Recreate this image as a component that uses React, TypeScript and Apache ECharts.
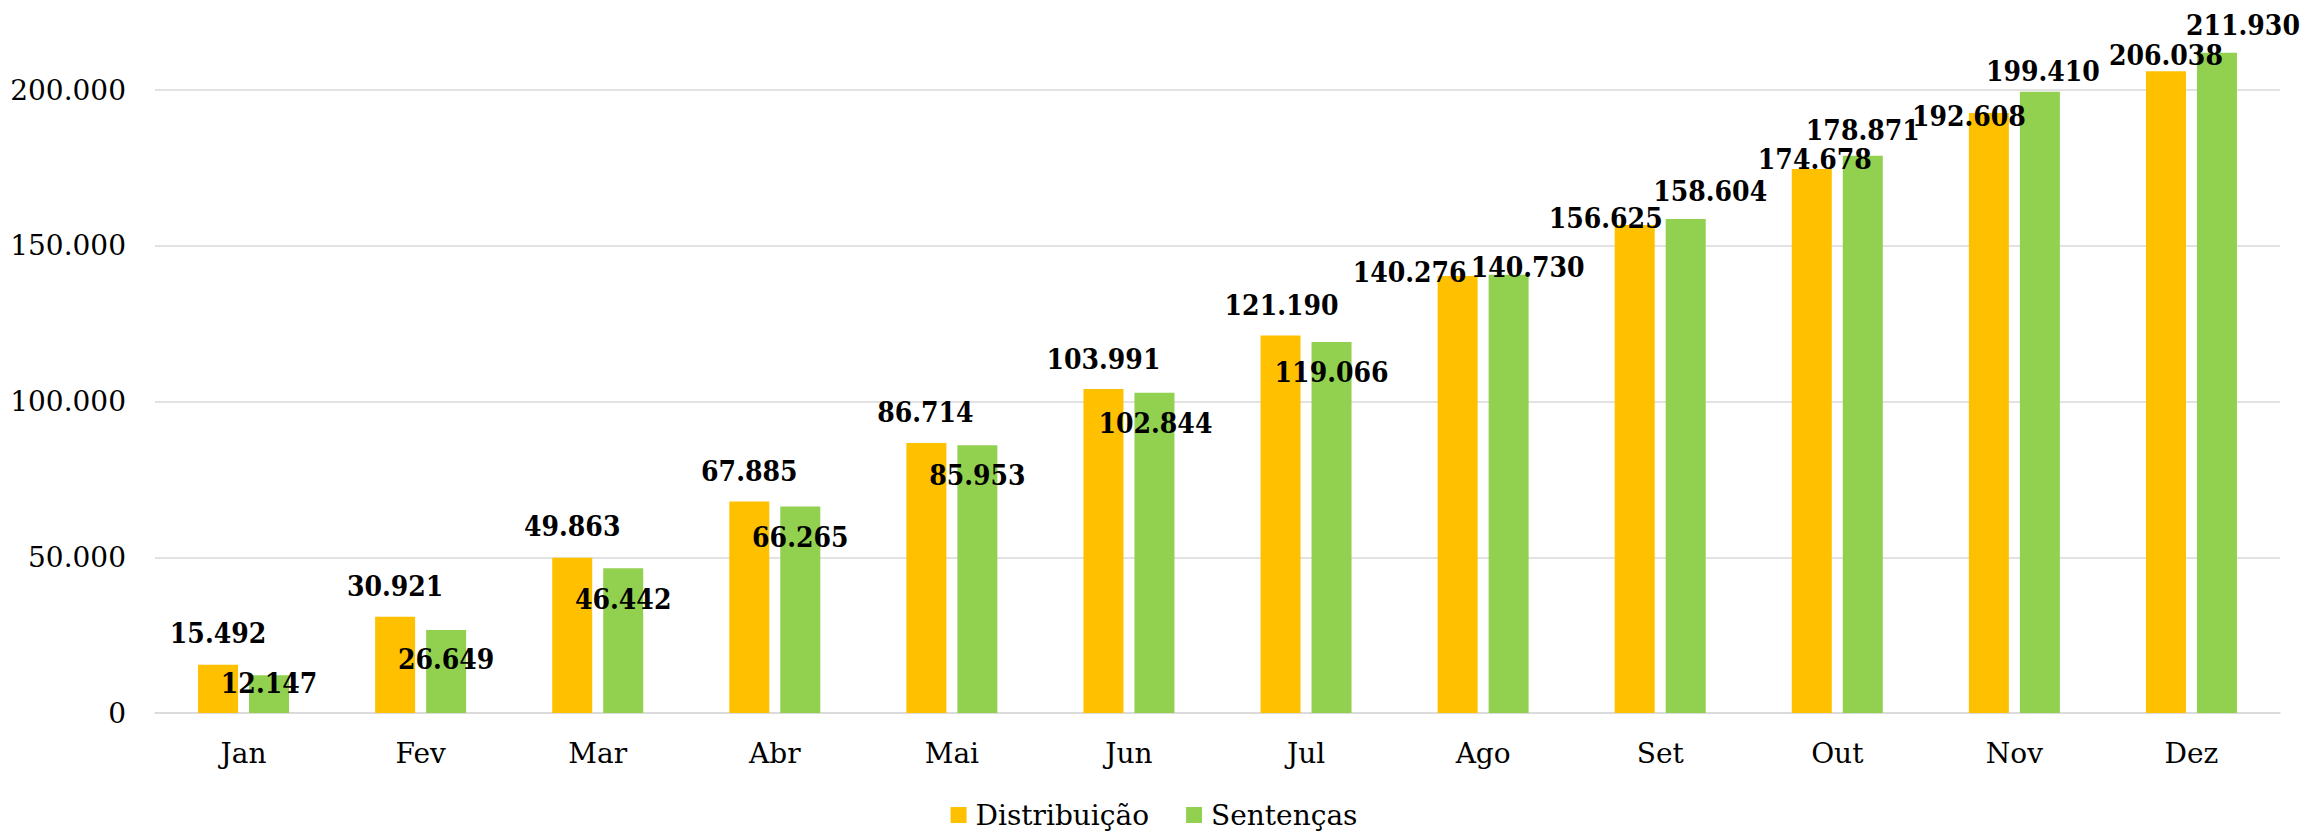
import React, { useEffect, useRef } from 'react';
import * as echarts from 'echarts';

const months = ['Jan', 'Fev', 'Mar', 'Abr', 'Mai', 'Jun', 'Jul', 'Ago', 'Set', 'Out', 'Nov', 'Dez'];
const distribuicao = [15492, 30921, 49863, 67885, 86714, 103991, 121190, 140276, 156625, 174678, 192608, 206038];
const sentencas = [12147, 26649, 46442, 66265, 85953, 102844, 119066, 140730, 158604, 178871, 199410, 211930];

// label placement (dx, dy) relative to bar top centre, as in the reference
const distLabelOffsets: [number, number][] = [
  [0, -30], [0, -29.5], [0, -30], [0, -29], [-1, -29], [0, -29],
  [1, -29], [-48, -3], [-29, -6], [3, -8], [-20, 4.5], [0, -15],
];
const sentLabelOffsets: [number, number][] = [
  [0, 9], [0, 31], [0, 32], [0, 32], [0, 31], [1, 32],
  [0, 31], [19, -6], [24.5, -26], [0, -24], [3, -19.5], [26, -26],
];

const fmt = (v: number) => String(Math.round(v)).replace(/\B(?=(\d{3})+(?!\d))/g, '.');

const SERIF = '"DejaVu Serif", "Liberation Serif", serif';
const LABEL_FONT = '"DejaVu Serif Condensed", "DejaVu Serif", serif';

export default function App() {
  const ref = useRef<HTMLDivElement>(null);
  useEffect(() => {
    if (!ref.current) return;
    const chart = echarts.init(ref.current, null, { renderer: 'svg' });
    const labelBase = {
      show: true,
      position: 'top',
      distance: 0,
      align: 'center',
      verticalAlign: 'middle',
      fontFamily: LABEL_FONT,
      fontWeight: 'bold',
      fontSize: 28,
      color: '#000',
      formatter: (p: any) => fmt(p.value),
    };
    const makeData = (vals: number[], offs: [number, number][]) =>
      vals.map((v, i) => ({ value: v, label: { offset: [offs[i][0], offs[i][1] - 1] } }));

    chart.setOption({
      animation: false,
      backgroundColor: '#ffffff',
      grid: { left: 155, right: 28, top: 27.7, bottom: 119, containLabel: false },
      legend: {
        top: 796,
        left: 'center',
        icon: 'rect',
        itemWidth: 16,
        itemHeight: 16,
        itemGap: 37,
        textStyle: { fontFamily: SERIF, fontSize: 28, color: '#000', padding: [0, 0, 0, 4] },
        data: ['Distribuição', 'Sentenças'],
      },
      xAxis: {
        type: 'category',
        data: months,
        axisLine: { show: true, lineStyle: { color: '#d9d9d9', width: 1.5 } },
        axisTick: { show: false },
        axisLabel: { fontFamily: SERIF, fontSize: 28, color: '#000', margin: 26 },
      },
      yAxis: {
        type: 'value',
        min: 0,
        max: 220000,
        interval: 50000,
        axisLine: { show: false },
        axisTick: { show: false },
        splitLine: { show: true, showMaxLine: false, lineStyle: { color: '#d9d9d9', width: 1.5 } },
        axisLabel: {
          fontFamily: SERIF,
          fontSize: 28,
          color: '#000',
          margin: 29,
          showMaxLabel: false,
          formatter: (v: number) => fmt(v),
        },
      },
      series: [
        {
          name: 'Distribuição',
          type: 'bar',
          barWidth: 40,
          barGap: '27.5%',
          itemStyle: { color: '#FFC000' },
          label: labelBase,
          data: makeData(distribuicao, distLabelOffsets),
        },
        {
          name: 'Sentenças',
          type: 'bar',
          barWidth: 40,
          barGap: '27.5%',
          itemStyle: { color: '#92D050' },
          label: labelBase,
          data: makeData(sentencas, sentLabelOffsets),
        },
      ],
    });
    return () => chart.dispose();
  }, []);
  return (
    <div
      ref={ref}
      style={{ position: 'absolute', left: 0, top: 0, width: 2308, height: 832, background: '#fff' }}
    />
  );
}
